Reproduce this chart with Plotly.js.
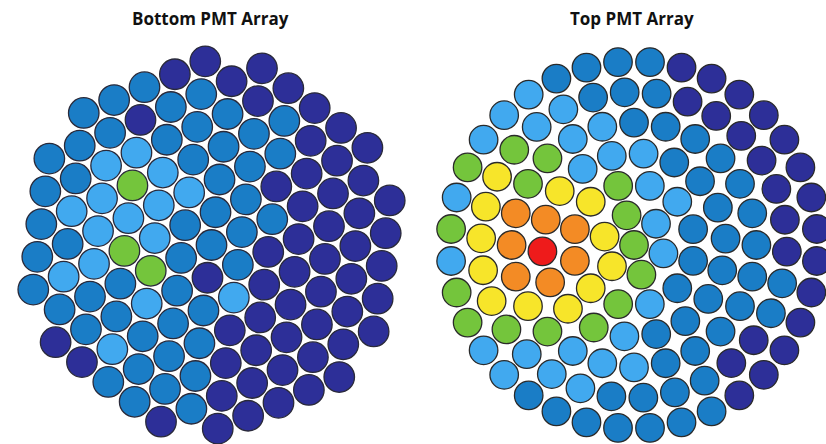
<!DOCTYPE html>
<html><head><meta charset="utf-8">
<script src="https://cdn.plot.ly/plotly-3.0.1.min.js"></script>
<style>html,body{margin:0;padding:0;background:#fff}#chart{width:826px;height:444px}</style>
</head><body><div id="chart"></div>
<script>
// ---------- DATA ----------
// Signal level per PMT: 0 = lowest (dark blue) ... 6 = highest (red)
// Bottom array: hexagonal lattice, column index i, row index j (axial coordinates)
const bottomColumns  = [-6, -5, -4, -3, -2, -1, 0, 1, 2, 3, 4, 5, 6];
const bottomRowStart = [ 1, -1, -2, -3, -4, -5, -5, -6, -6, -6, -6, -6, -5];
const bottomLevels = [
  [1,1,1,1,1],
  [0,1,2,1,2,1,1,1],
  [0,1,1,2,2,2,2,1,1],
  [1,2,1,1,3,2,3,2,0,1],
  [1,1,1,2,3,2,2,2,1,1,0],
  [0,1,1,1,1,1,1,2,1,1,1,0],
  [1,1,1,1,0,1,1,1,1,1,0],
  [0,0,0,0,2,1,1,1,1,1,0,0],
  [0,0,0,0,0,0,1,0,1,1,0],
  [0,0,0,0,0,0,0,0,0,0],
  [0,0,0,0,0,0,0,0,0],
  [0,0,0,0,0,0,0,0],
  [0,0,0,0,0]
];
// Top array: concentric rings (ring index = radius in ring pitches)
const topRingCounts   = [1, 6, 12, 18, 24, 30, 36];
const topRingStartDeg = [0, 44, 15, 4, 0, 9.5, 5];
const topLevels = [
  [3],
  [2,3,4,4,3,2],
  [1,2,2,3,4,5,5,4,3,2,1,1],
  [1,1,1,1,2,2,2,4,5,6,5,4,3,2,1,1,1,1],
  [1,1,1,1,1,1,1,2,2,3,3,5,5,5,4,3,2,2,2,1,1,1,1,1],
  [0,0,0,0,0,0,1,1,1,2,2,3,4,4,4,4,4,3,2,2,2,1,1,1,1,0,0,1,1,0],
  [0,0,0,0,0,0,0,0,1,1,1,1,2,2,2,3,2,3,2,3,3,2,2,1,1,1,1,1,1,1,0,0,0,0,0,0]
];
const titles = ['Bottom PMT Array', 'Top PMT Array'];

// ---------- STYLE ----------
const palette = ['#2d2f98', '#1a7dc6', '#41a9ef', '#74c53c', '#f7e52a', '#f38b25', '#ee1b1b'];
const latticeDeg = [23, 83];

// ---------- BUILD ----------
const d2r = Math.PI / 180;
const bx = [], by = [], bc = [];
bottomColumns.forEach((i, ci) => {
  bottomLevels[ci].forEach((lv, k) => {
    const j = bottomRowStart[ci] + k;
    bx.push(i * Math.cos(latticeDeg[0]*d2r) + j * Math.cos(latticeDeg[1]*d2r));
    by.push(i * Math.sin(latticeDeg[0]*d2r) + j * Math.sin(latticeDeg[1]*d2r));
    bc.push(palette[lv]);
  });
});
const tx = [], ty = [], tc = [];
topRingCounts.forEach((n, r) => {
  for (let k = 0; k < n; k++) {
    const a = (topRingStartDeg[r] + k * 360 / n) * d2r;
    tx.push(r * Math.cos(a));
    ty.push(r * Math.sin(a));
    tc.push(palette[topLevels[r][k]]);
  }
});

const traces = [
  {type:'scatter', mode:'markers', x:bx, y:by, xaxis:'x', yaxis:'y', hoverinfo:'skip',
   marker:{size:30.5, color:bc, line:{color:'#2a2a3a', width:1.3}}},
  {type:'scatter', mode:'markers', x:tx, y:ty, xaxis:'x2', yaxis:'y2', hoverinfo:'skip',
   marker:{size:28.5, color:tc, line:{color:'#2a2a2a', width:1.3}}}
];

// pixel geometry: bottom centre (211.5,245) @33 px/unit ; top centre (634,245) @30.6 px/unit
const W = 826, H = 444;
const bS = 33, bCx = 211.5, bCy = 245;
const tS = 30.6, tCx = 634, tCy = 245;
const hidden = {visible:false, fixedrange:true};
const layout = {
  width: W, height: H, margin:{l:0, r:0, t:0, b:0},
  paper_bgcolor:'#ffffff', plot_bgcolor:'rgba(0,0,0,0)', showlegend:false,
  xaxis:  Object.assign({domain:[0, 0.5], range:[(0 - bCx)/bS, (W/2 - bCx)/bS]}, hidden),
  yaxis:  Object.assign({domain:[0, 1], range:[-(H - bCy)/bS, bCy/bS]}, hidden),
  xaxis2: Object.assign({domain:[0.5, 1], range:[(W/2 - tCx)/tS, (W - tCx)/tS], anchor:'y2'}, hidden),
  yaxis2: Object.assign({domain:[0, 1], range:[-(H - tCy)/tS, tCy/tS], anchor:'x2'}, hidden),
  annotations: [
    {text:'<b>' + titles[0] + '</b>', xref:'paper', yref:'paper', x:210/W, y:1 - 18/H,
     xanchor:'center', yanchor:'middle', showarrow:false,
     font:{family:'Open Sans, sans-serif', size:17, color:'#111111'}},
    {text:'<b>' + titles[1] + '</b>', xref:'paper', yref:'paper', x:632/W, y:1 - 18/H,
     xanchor:'center', yanchor:'middle', showarrow:false,
     font:{family:'Open Sans, sans-serif', size:17, color:'#111111'}}
  ]
};
Plotly.newPlot('chart', traces, layout, {staticPlot:true, displayModeBar:false});
</script>
</body></html>
